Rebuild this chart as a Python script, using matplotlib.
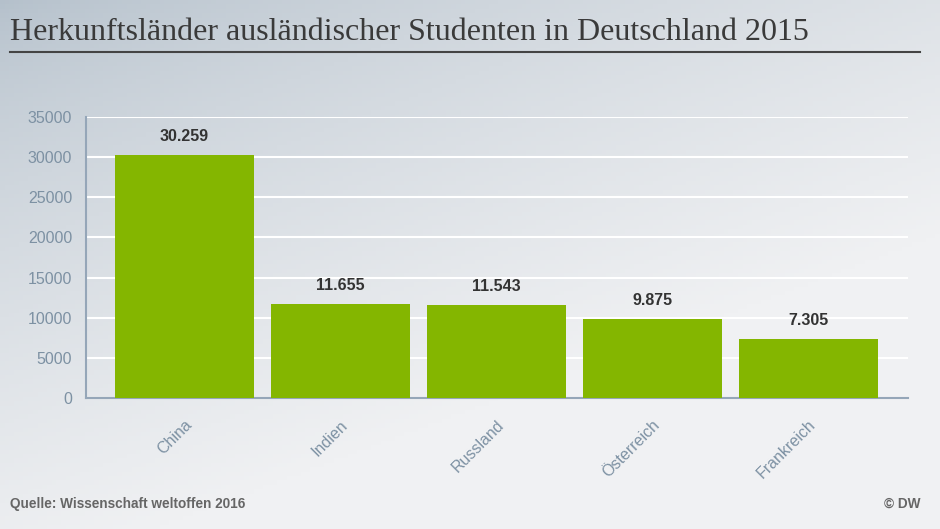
import numpy as np
import matplotlib
matplotlib.use('Agg')
from matplotlib import pyplot as plt

# data
countries = ['China', 'Indien', 'Russland', 'Österreich', 'Frankreich']
students = [30259, 11655, 11543, 9875, 7305]
value_labels = ['30.259', '11.655', '11.543', '9.875', '7.305']
yticks = [0, 5000, 10000, 15000, 20000, 25000, 30000, 35000]

plt.rcParams['font.family'] = ['Liberation Sans', 'DejaVu Sans']

fig = plt.figure(figsize=(9.4, 5.29), dpi=100)

# background gradient, darker in the upper left corner
bg = fig.add_axes([0, 0, 1, 1], zorder=-10)
xx, yy = np.meshgrid(np.linspace(0, 1, 200), np.linspace(0, 1, 120))
t = np.clip(0.6 * xx + 0.9 * yy, 0, 1) ** 0.7
c1 = np.array([0xb4, 0xc0, 0xcb]) / 255
c2 = np.array([0xf0, 0xf1, 0xf3]) / 255
img = c1[None, None, :] * (1 - t[..., None]) + c2[None, None, :] * t[..., None]
bg.imshow(img, aspect='auto', extent=[0, 1, 0, 1], origin='upper')
bg.axis('off')

fig.text(10 / 940, 1 - 33 / 529, 'Herkunftsländer ausländischer Studenten in Deutschland 2015',
         family='Liberation Serif', fontsize=23, color='#3a3a3a', va='center', ha='left')
fig.add_artist(plt.Line2D([10 / 940, 920 / 940], [1 - 52 / 529, 1 - 52 / 529],
                          color='#444444', linewidth=1.5))

ax = fig.add_axes([86 / 940, 1 - 398 / 529, (908 - 86) / 940, (398 - 117) / 529])
ax.patch.set_alpha(0)
x = np.arange(len(countries))
ax.bar(x, students, width=0.89, color='#84b600', zorder=3)
for xi, v, lab in zip(x, students, value_labels):
    ax.annotate(lab, (xi, v), xytext=(0, 8), textcoords='offset points',
                ha='center', va='bottom', fontsize=11.5, fontweight='bold', color='#333333')

ax.set_xlim(-0.63, 4.64)
ax.set_ylim(0, 35000)
ax.set_yticks(yticks)
ax.set_yticklabels([str(v) for v in yticks])
ax.grid(axis='y', color='white', linewidth=1.5, zorder=0)
ax.set_xticks(x)
ax.set_xticklabels(countries, rotation=45, ha='right', rotation_mode='anchor')
ax.tick_params(axis='y', length=0, pad=10, labelsize=11.5, labelcolor='#7d91a3')
ax.tick_params(axis='x', length=0, pad=14, labelsize=11.5, labelcolor='#7d91a3')
for s in ['top', 'right']:
    ax.spines[s].set_visible(False)
for s in ['left', 'bottom']:
    ax.spines[s].set_color('#95a6b8')
    ax.spines[s].set_linewidth(1.5)

fig.text(10 / 940, 1 - 504 / 529, 'Quelle: Wissenschaft weltoffen 2016',
         fontsize=9.8, color='#666666', fontweight='bold', va='center', ha='left')
fig.text(920 / 940, 1 - 504 / 529, '© DW',
         fontsize=9.8, color='#666666', fontweight='bold', va='center', ha='right')

fig.savefig('out.png', dpi=100)
